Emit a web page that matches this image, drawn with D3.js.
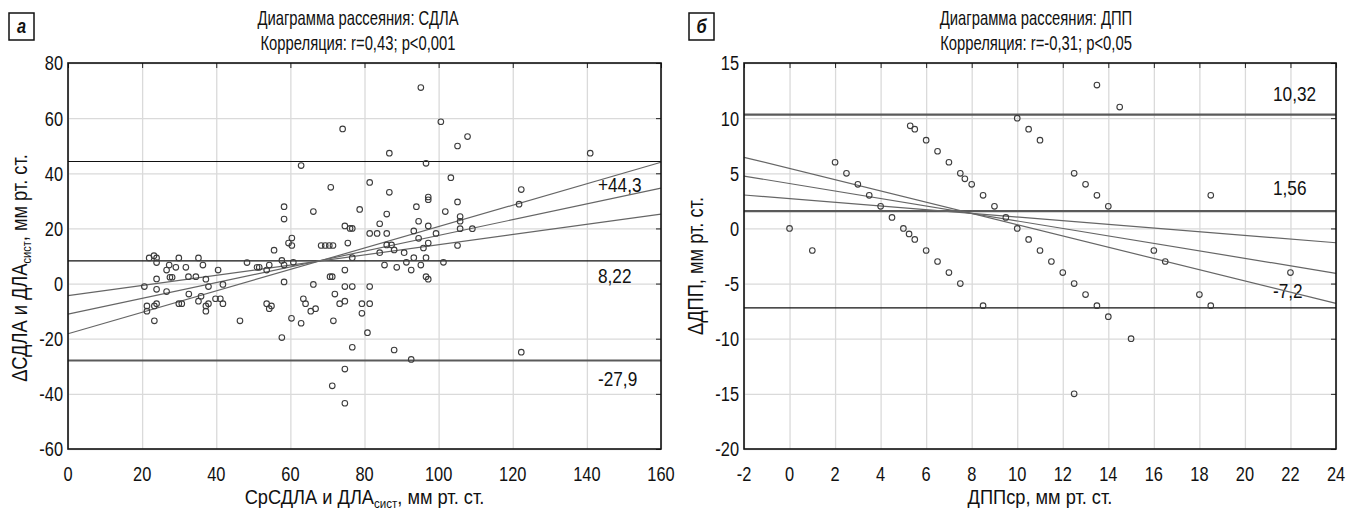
<!DOCTYPE html>
<html>
<head>
<meta charset="utf-8">
<style>
  body { margin: 0; background: #fff; }
  svg { font-family: 'Liberation Sans', Arial, sans-serif; }
  .grid line { stroke: #dadada; stroke-width: 1.3; }
  .grid path { display: none; }
  .dot { fill: none; stroke: #3c3c3c; stroke-width: 1.1; }
  .fit { stroke: #666; stroke-width: 1.2; fill: none; }
  .tick-in line { stroke: #222; }
  .tick-in path { display: none; }
</style>
</head>
<body>
<svg width="1347" height="511"></svg>
<script src="https://d3js.org/d3.v7.min.js"></script>
<script>
// ---- panel а : СДЛА ----
const sdlaXTicks = [0, 20, 40, 60, 80, 100, 120, 140, 160];
const sdlaYTicks = [-60, -40, -20, 0, 20, 40, 60, 80];
const sdlaLimits = [44.3, 8.22, -27.9];
const sdlaLimitLabels = ["+44,3", "8,22", "-27,9"];
const sdlaFitX = [0, 160];
const sdlaFitY = [[-18.2, 44.0], [-11.1, 34.6], [-4.4, 25.2]];
const sdlaPoints = [
  [62.9,42.8],[70.9,34.9],[58.3,27.9],[58.3,23.4],[66.2,26.1],[55.6,12.1],[59.5,14.7],[60.4,16.5],
  [60.4,13.8],[68.3,13.8],[69.4,13.8],[70.5,13.8],[71.5,13.8],[57.7,8.4],[58.3,6.7],[60.8,7.7],
  [53.6,4.9],[54.3,6.7],[51,5.9],[51.6,5.9],[48.3,7.6],[40.5,4.9],[21.9,9.3],[23.2,10.1],
  [23.9,9.3],[23.9,7.6],[26.6,4.9],[27.3,6.7],[29.1,5.9],[29.9,9.3],[31.8,5.9],[35.2,9.3],
  [36.4,6.7],[23.9,1.7],[27.5,2.3],[28.1,2.3],[32.5,2.5],[34.5,2.5],[37.2,1.6],
  [20.6,-1.1],[23.9,-2.1],[26.6,-2.9],[21.3,-8.1],[21.3,-10],[23.9,-7.3],[23.3,-8.1],[23.3,-13.5],
  [29.9,-7.3],[30.7,-7.3],[32.6,-3.8],[35.2,-6.4],[35.9,-4.6],[37.2,-8.1],[37.2,-10],[37.9,-7.3],
  [37.9,-1.1],[39.8,-5.5],[41.1,-5.5],[41.8,-7.3],[41.8,-0.3],[46.4,-13.5],[58.3,0.6],[53.6,-7.3],
  [54.3,-9.1],[54.9,-8.1],[57.7,-19.6],[60.3,-12.6],[62.9,-14.4],[63.5,-5.5],[64.1,-7.3],[65.5,-10],
  [66.8,-9.1],[66.2,-0.3],[70.7,2.5],[71.3,2.5],[72,-3.8],[71.6,-13.5],[71.3,-37.1],[73.3,-7.3],
  [95.2,71.1],[74.1,56.1],[100.6,58.7],[107.8,53.3],[105.1,49.9],[86.7,47.3],[140.9,47.3],[96.6,43.6],
  [81.4,36.7],[103.3,38.4],[86.7,33.1],[97.2,31.4],[97.2,30.4],[122.3,34.1],[121.7,28.8],[78.7,26.9],
  [94,27.9],[105.1,29.6],[101.8,26.1],[86,25.2],[105.8,24.3],[105.8,22.6],[94.6,22.6],[84.1,21.7],
  [74.7,20.9],[76.1,20],[76.7,20],[97.2,20.9],[105.8,19.9],[109.1,19.9],[81.4,18.2],[83.4,18.2],
  [86,18.2],[93.3,19.1],[99.3,18.2],[94.6,16.4],[97.2,14.7],[75.5,14.7],[86,14],[87.3,14],
  [95.9,12.9],[105.1,13.8],[88,12.2],[84.1,11.2],[90.7,11.2],[76.7,9.4],[96.6,9.4],[93.3,9.4],
  [85.4,6.7],[88.7,5.9],[91.3,7.7],[92.6,4.9],[95.2,6.7],[101.3,7.7],[74.7,4.9],
  [96.6,2.5],[97.2,1.6],[74.7,-1.1],[76.7,-1.1],[81.4,-1.1],[74.7,-6.4],[79.3,-7.3],[81.4,-7.3],
  [79.3,-10.8],[80.8,-17.8],[76.7,-23.1],[88,-24.1],[92.6,-27.5],[122.3,-24.9],[74.7,-31],[74.7,-43.4]
];

// ---- panel б : ДПП ----
const dppXTicks = [-2, 0, 2, 4, 6, 8, 10, 12, 14, 16, 18, 20, 22, 24];
const dppYTicks = [-20, -15, -10, -5, 0, 5, 10, 15];
const dppLimits = [10.32, 1.56, -7.2];
const dppLimitLabels = ["10,32", "1,56", "-7,2"];
const dppFitX = [-2, 24];
const dppFitY = [[6.45, -6.8], [4.75, -4.07], [3.03, -1.3]];
const dppPoints = [
  [0,0],[1,-2],[2,6],[2.5,5],[3,4],[3.5,3],[4,2],[4.5,1],[5,0],[5.25,-0.5],[5.5,-1],
  [5.3,9.3],[5.5,9],[6,8],[6,-2],[6.5,7],[6.5,-3],[7,6],[7,-4],[7.5,5],[7.7,4.5],[8,4],
  [8.5,3],[9,2],[9.5,1],[10,0],[10,10],[7.5,-5],[8.5,-7],[13.5,13],[14.5,11],[10.5,9],
  [11,8],[12.5,5],[13,4],[13.5,3],[14,2],[18.5,3],[10.5,-1],[11,-2],[11.5,-3],[12,-4],
  [16,-2],[16.5,-3],[22,-4],[12.5,-5],[13,-6],[13.5,-7],[14,-8],[15,-10],[12.5,-15],
  [18,-6],[18.5,-7]
];

const svg = d3.select("svg");

const panels = [
  {
    letter: "а", box: 9, left: 68, right: 661, titleX: 358,
    title1: "Диаграмма рассеяния: СДЛА", title2: "Корреляция: r=0,43; p<0,001",
    xDomain: [0, 160], yDomain: [-60, 80], xTicks: sdlaXTicks, yTicks: sdlaYTicks,
    limits: sdlaLimits, limitLabels: sdlaLimitLabels, limitThick: [false, false, true],
    labelDy: [31, 22, 26],
    fitX: sdlaFitX, fitY: sdlaFitY, points: sdlaPoints,
    xTitle: ["СрСДЛА и ДЛА", "сист", ", мм рт. ст."],
    yTitle: ["ΔСДЛА и ДЛА", "сист", ", мм рт. ст."], yTitleX: 27, yTitleY: 268
  },
  {
    letter: "б", box: 689, left: 744, right: 1336, titleX: 1036,
    title1: "Диаграмма рассеяния: ДПП", title2: "Корреляция: r=-0,31; p<0,05",
    xDomain: [-2, 24], yDomain: [-20, 15], xTicks: dppXTicks, yTicks: dppYTicks,
    limits: dppLimits, limitLabels: dppLimitLabels, limitThick: [true, true, false],
    labelDy: [-14, -16, -10],
    fitX: dppFitX, fitY: dppFitY, points: dppPoints,
    xTitle: ["ДППср, мм рт. ст."],
    yTitle: ["ΔДПП, мм рт. ст."], yTitleX: 703, yTitleY: 266
  }
];

const plotTop = 63, plotBottom = 449;

// put text at (x,y) and compress it horizontally (condensed face look)
function narrow(sel, k, rot) {
  sel.each(function () {
    const t = d3.select(this);
    const x = +t.attr("x"), y = +t.attr("y");
    t.attr("x", 0).attr("y", 0)
      .attr("transform", `translate(${x},${y})${rot ? " rotate(-90)" : ""} scale(${k},1)`);
  });
}

panels.forEach(p => {
  const x = d3.scaleLinear().domain(p.xDomain).range([p.left, p.right]);
  const y = d3.scaleLinear().domain(p.yDomain).range([plotBottom, plotTop]);
  const g = svg.append("g");

  // grid
  g.append("g").attr("class", "grid")
    .attr("transform", `translate(0,${plotBottom})`)
    .call(d3.axisBottom(x).tickValues(p.xTicks).tickSize(-(plotBottom - plotTop)).tickFormat(""));
  g.append("g").attr("class", "grid")
    .attr("transform", `translate(${p.left},0)`)
    .call(d3.axisLeft(y).tickValues(p.yTicks).tickSize(-(p.right - p.left)).tickFormat(""));

  // limit lines
  g.selectAll(".limit").data(p.limits).join("line")
    .attr("x1", p.left).attr("x2", p.right)
    .attr("y1", d => y(d)).attr("y2", d => y(d))
    .attr("stroke", (d, i) => p.limitThick[i] ? "#5a5a5a" : "#111")
    .attr("stroke-width", (d, i) => p.limitThick[i] ? 2.2 : 1.1);

  g.selectAll(".limit-label").data(p.limits).join("text")
    .attr("x", p.right - 63)
    .attr("y", (d, i) => y(d) + p.labelDy[i])
    .attr("font-size", 21)
    .attr("fill", "#111")
    .text((d, i) => p.limitLabels[i])
    .call(narrow, 0.82);

  // regression and confidence lines
  g.selectAll(".fit").data(p.fitY).join("line")
    .attr("class", "fit")
    .attr("x1", x(p.fitX[0])).attr("x2", x(p.fitX[1]))
    .attr("y1", d => y(d[0])).attr("y2", d => y(d[1]));

  // points
  g.selectAll(".dot").data(p.points).join("circle")
    .attr("class", "dot")
    .attr("cx", d => x(d[0])).attr("cy", d => y(d[1]))
    .attr("r", 2.8);

  // inner ticks
  g.append("g").attr("class", "tick-in").attr("transform", `translate(${p.right},0)`)
    .call(d3.axisRight(y).tickValues(p.yTicks).tickSize(-5).tickFormat(""));
  g.append("g").attr("class", "tick-in").attr("transform", `translate(0,${plotTop})`)
    .call(d3.axisTop(x).tickValues(p.xTicks).tickSize(-5).tickFormat(""));

  // frame
  g.append("rect")
    .attr("x", p.left).attr("y", plotTop)
    .attr("width", p.right - p.left).attr("height", plotBottom - plotTop)
    .attr("fill", "none").attr("stroke", "#111").attr("stroke-width", 1.6);

  // tick labels
  g.selectAll(".xl").data(p.xTicks).join("text")
    .attr("x", d => x(d)).attr("y", 480.5)
    .attr("text-anchor", "middle").attr("font-size", 20.5).attr("fill", "#111")
    .text(d => String(d))
    .call(narrow, 0.8);
  g.selectAll(".yl").data(p.yTicks).join("text")
    .attr("x", p.left - 5).attr("y", d => y(d)).attr("dy", "0.36em")
    .attr("text-anchor", "end").attr("font-size", 20.5).attr("fill", "#111")
    .text(d => String(d))
    .call(narrow, 0.8);

  // axis titles
  const xt = g.append("text")
    .attr("x", (p.left + p.right) / 2).attr("y", 504)
    .attr("text-anchor", "middle").attr("font-size", 20.5).attr("fill", "#111");
  addParts(xt, p.xTitle);
  xt.call(narrow, 0.89);
  const yt = g.append("text")
    .attr("x", p.yTitleX).attr("y", p.yTitleY)
    .attr("text-anchor", "middle").attr("font-size", 21.5).attr("fill", "#111");
  addParts(yt, p.yTitle);
  yt.call(narrow, 0.85, true);

  // titles
  g.append("text").attr("x", p.titleX).attr("y", 25)
    .attr("text-anchor", "middle").attr("font-size", 20).attr("fill", "#111")
    .text(p.title1).call(narrow, 0.74);
  g.append("text").attr("x", p.titleX).attr("y", 50)
    .attr("text-anchor", "middle").attr("font-size", 20).attr("fill", "#111")
    .text(p.title2).call(narrow, 0.74);

  // panel letter
  g.append("rect").attr("x", p.box).attr("y", 13).attr("width", 25).attr("height", 27)
    .attr("fill", "#fff").attr("stroke", "#111").attr("stroke-width", 1.5);
  g.append("text").attr("x", p.box + 12.5).attr("y", 33)
    .attr("text-anchor", "middle").attr("font-size", 20)
    .attr("font-weight", "bold").attr("font-style", "italic").attr("fill", "#111")
    .text(p.letter).call(narrow, 0.82);
});

function addParts(t, parts) {
  t.append("tspan").text(parts[0]);
  if (parts.length > 1) {
    t.append("tspan").attr("font-size", 13).attr("dy", 4).text(parts[1]);
    t.append("tspan").attr("dy", -4).text(parts[2]);
  }
}
</script>
</body>
</html>
